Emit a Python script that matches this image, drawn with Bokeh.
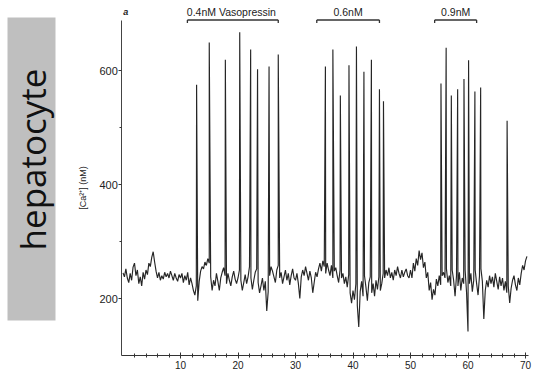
import numpy as np
from bokeh.plotting import figure
from bokeh.models import LinearAxis, FixedTicker, Range1d
from bokeh.core.properties import value
from bokeh.embed import file_html
from bokeh.resources import INLINE

# ---- data -------------------------------------------------------------
# resting [Ca2+] (nM), sampled every 0.25 min from 0 to 70.25 min
base_00 = [245, 238, 252, 236, 228, 244, 232, 255, 262, 240,
           250, 226, 238, 222, 246, 234, 250, 242, 262, 256,
           272, 282, 264, 248, 236, 246, 232, 240, 234, 246,
           238, 244, 236, 248, 240, 232, 244, 236, 230, 242]
base_10 = [236, 244, 228, 240, 232, 246, 224, 236,
           226, 214, 206, 222, 196, 230, 248, 256,
           252, 264, 258, 270, 262, 238, 214, 232,
           222, 244, 230, 214, 236, 246, 254, 240,
           226, 244, 232, 222, 238, 248, 234, 226]
base_20 = [236, 250, 232, 214, 228, 242, 226, 238,
           256, 236, 216, 232, 246, 252, 228, 210,
           222, 236, 214, 230, 178, 212, 240, 256,
           248, 238, 228, 250, 258, 236, 246, 226,
           238, 250, 232, 244, 224, 240, 252, 236]
base_30 = [232, 244, 226, 200, 238, 250, 240, 256,
           244, 232, 248, 236, 210, 228, 246, 238,
           252, 262, 248, 266, 256, 244, 262, 250,
           240, 258, 236, 248, 254, 240, 228, 250,
           236, 244, 226, 238, 220, 242, 210, 192]
base_40 = [214, 198, 226, 188, 150, 212, 230, 204,
           240, 220, 196, 228, 238, 210, 226, 204,
           232, 216, 238, 214, 226, 244, 236, 250,
           240, 254, 236, 246, 232, 250, 240, 256,
           244, 236, 250, 238, 246, 252, 240, 236]
base_50 = [250, 236, 262, 248, 270, 258, 284, 268,
           280, 254, 264, 236, 246, 214, 228, 198,
           216, 206, 234, 222, 240, 224, 240, 246,
           236, 252, 228, 240, 222, 250, 232, 204,
           240, 222, 246, 214, 236, 226, 250, 210]
base_60 = [142, 226, 244, 212, 232, 250, 226, 206,
           240, 252, 230, 164, 214, 232, 220, 240,
           226, 238, 220, 244, 230, 216, 238, 222,
           236, 214, 230, 210, 222, 192, 218, 232,
           240, 224, 214, 236, 224, 244, 258, 250,
           266, 274]

# Ca2+ spikes: time (min) and peak (nM)
spike_t_04 = [12.8, 15.0, 17.8, 20.3, 22.2, 23.4, 25.4, 27.0]
spike_v_04 = [575, 649, 619, 667, 637, 602, 607, 628]
spike_t_06 = [35.2, 36.5, 37.8, 39.3, 40.6, 41.9, 43.2, 44.6, 45.3]
spike_v_06 = [607, 637, 556, 609, 642, 598, 619, 567, 546]
spike_t_09 = [55.3, 56.2, 57.1, 58.2, 59.3, 60.1, 61.2, 62.2, 66.8]
spike_v_09 = [577, 640, 556, 567, 585, 618, 563, 570, 512]

# vasopressin applications
stim_start = [11.2, 33.7, 54.2]
stim_end = [27.0, 44.6, 61.5]
stim_labels = ["0.4nM  Vasopressin", "0.6nM", "0.9nM"]

x_ticks = [10, 20, 30, 40, 50, 60, 70]
y_ticks = [200, 400, 600]

# ---- layout helpers (page pixels -> data) -----------------------------
W, H = 534, 372
X0, X1 = -122.5 / 5.75, (W - 122.5) / 5.75
Y1, Y0 = 200 + 298 / 0.57, 200 - (H - 298) / 0.57
def sx(px):
    return X0 + (X1 - X0) * px / W
def sy(py):
    return Y1 - (Y1 - Y0) * py / H

p = figure(width=W, height=H, x_range=Range1d(X0, X1), y_range=Range1d(Y0, Y1),
           output_backend="svg", toolbar_location=None, min_border=0,
           x_axis_type=None, y_axis_type=None)
p.outline_line_color = None
p.background_fill_color = "white"

# grey label box with rotated text
p.quad(left=[sx(7)], right=[sx(55)], top=[sy(17)], bottom=[sy(320)],
       fill_color="#bfbfbf", line_color=None)
p.text(x=[sx(32)], y=[sy(159)], text=["hepatocyte"], angle=np.pi / 2,
       text_font=value("Open Sans"), text_font_size="35px", text_color="#111111",
       text_align="center", text_baseline="middle")

# trace
baseline = np.array(base_00 + base_10 + base_20 + base_30 + base_40 + base_50 + base_60, dtype=float)
t_base = np.arange(len(baseline)) * 0.25
t_sp = np.array(spike_t_04 + spike_t_06 + spike_t_09)
v_sp = np.array(spike_v_04 + spike_v_06 + spike_v_09, dtype=float)
t_all = np.concatenate([t_base, t_sp])
v_all = np.concatenate([baseline, v_sp])
order = np.argsort(t_all, kind="stable")
p.line(t_all[order], v_all[order], line_color="#262626", line_width=1.15)

# stimulus brackets
br_y = sy(19.5)
br_y2 = sy(22.5)
p.segment(x0=stim_start, y0=[br_y] * 3, x1=stim_end, y1=[br_y] * 3,
          line_color="#333333", line_width=1.3)
p.segment(x0=stim_start + stim_end, y0=[br_y] * 6, x1=stim_start + stim_end, y1=[br_y2] * 6,
          line_color="#333333", line_width=1.3)
mids = [(a + b) / 2 for a, b in zip(stim_start, stim_end)]
p.text(x=mids, y=[sy(11.5)] * 3, text=stim_labels,
       text_font=value("Liberation Sans"), text_font_size="10.5px", text_color="#222222",
       text_align="center", text_baseline="middle")
p.text(x=[0.5], y=[sy(11.5)], text=["a"], text_font=value("Liberation Sans"),
       text_font_size="9px", text_font_style="bold italic", text_color="#222222",
       text_align="center", text_baseline="middle")

# axes
xaxis = LinearAxis(ticker=FixedTicker(ticks=x_ticks, minor_ticks=[m for m in range(2, 70, 2) if m % 10]),
                   fixed_location=100, bounds=(-0.2, 70.6))
xaxis.axis_line_color = "#333333"
xaxis.major_tick_line_color = "#333333"
xaxis.minor_tick_line_color = "#333333"
xaxis.major_tick_in = 3
xaxis.major_tick_out = 3
xaxis.minor_tick_in = 2
xaxis.minor_tick_out = 2
xaxis.major_label_standoff = 2
xaxis.major_label_text_font = "Liberation Sans"
xaxis.major_label_text_font_size = "10px"
xaxis.major_label_text_color = "#222222"
p.add_layout(xaxis, "below")

yaxis = LinearAxis(ticker=FixedTicker(ticks=y_ticks, minor_ticks=[300, 500]),
                   fixed_location=-0.2, bounds=(100, 688))
yaxis.axis_line_color = "#444444"
yaxis.major_tick_line_color = "#333333"
yaxis.minor_tick_line_color = "#333333"
yaxis.major_tick_in = 0
yaxis.major_tick_out = 3
yaxis.minor_tick_in = 0
yaxis.minor_tick_out = 2
yaxis.major_label_standoff = 1
yaxis.major_label_text_font = "Liberation Sans"
yaxis.major_label_text_font_size = "11px"
yaxis.major_label_text_color = "#222222"
yaxis.axis_label = "[Ca²⁺] (nM)"
yaxis.axis_label_text_font = "Liberation Sans"
yaxis.axis_label_text_font_size = "9px"
yaxis.axis_label_text_font_style = "normal"
yaxis.axis_label_text_color = "#222222"
yaxis.axis_label_standoff = 8
p.add_layout(yaxis, "left")

open("out.html", "w").write(file_html(p, INLINE))
